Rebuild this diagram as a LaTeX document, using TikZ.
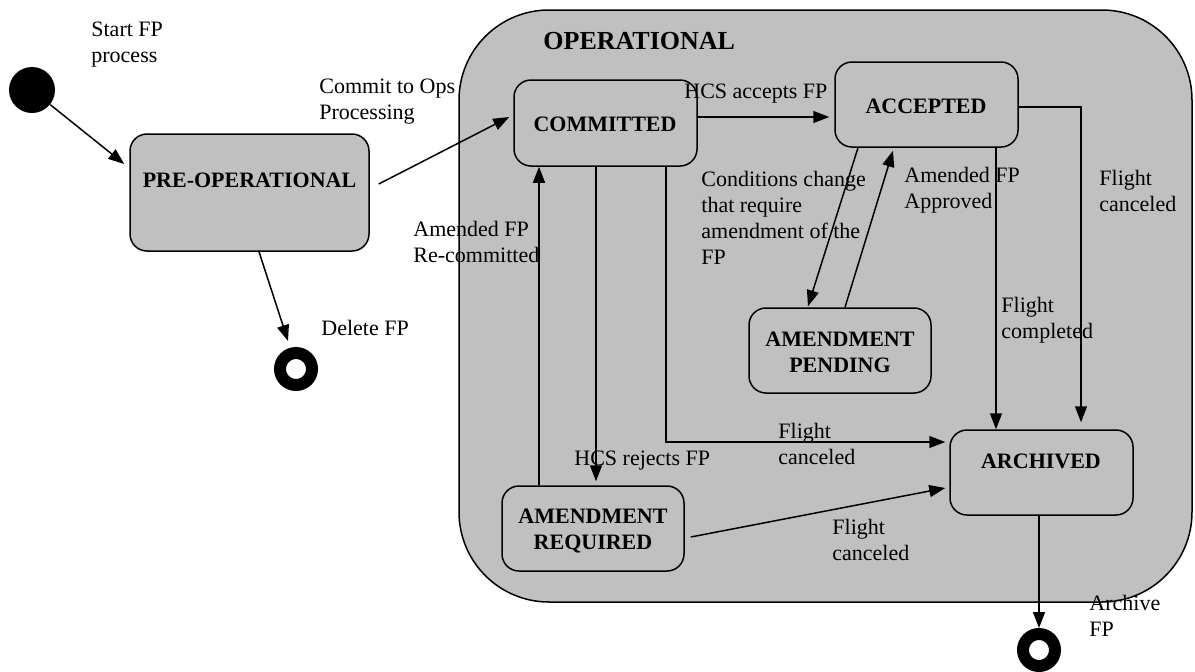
\documentclass[tikz,border=0pt]{standalone}
\usepackage{fontspec}
\setmainfont{Liberation Serif}
\usetikzlibrary{arrows.meta,fit,calc}
\definecolor{boxgray}{HTML}{C0C0C0}
\begin{document}
\begin{tikzpicture}[x=0.5pt,y=-0.5pt,
 box/.style={draw, fill=boxgray, rounded corners=8.5pt, inner sep=0pt, line width=0.75pt},
 arr/.style={line width=0.75pt, -{Triangle[length=8pt,width=6pt]}},
 lbl/.style={anchor=north west, inner sep=0pt, align=left, font=\fontsize{11}{13}\selectfont},
 stxt/.style={anchor=north, inner sep=0pt, align=center, font=\fontsize{11}{13}\selectfont\bfseries},
 initstate/.style={circle, fill=black, minimum size=23pt, inner sep=0pt},
 endstate/.style={circle, draw, line width=6pt, minimum size=16pt, inner sep=0pt},
]
\useasboundingbox (0,0) rectangle (1195,671);
% container
\node[box, rounded corners=45pt, fit={(459,10)(1192,602)}] (op) {};
\node[anchor=base west, inner sep=0pt, font=\fontsize{13}{15}\selectfont\bfseries] (optitle) at (543,49) {OPERATIONAL};
% states
\node[box, fit={(130,134)(369,251)}] (pre) {};
\node[box, fit={(514,80)(697,166)}] (com) {};
\node[box, fit={(835,62)(1018,147)}] (acc) {};
\node[box, fit={(749,308)(931,393)}] (ap) {};
\node[box, fit={(950,430)(1133,515)}] (arc) {};
\node[box, fit={(502,486)(684,571)}] (ar) {};
\node[stxt] (pret) at (249.5,172.5) {PRE-OPERATIONAL};
\node[stxt] (comt) at (605,116.5) {COMMITTED};
\node[stxt] (acct) at (926,98.5) {ACCEPTED};
\node[stxt] (apt) at (840,331.5) {AMENDMENT\\PENDING};
\node[stxt] (arct) at (1041,453.5) {ARCHIVED};
\node[stxt] (art) at (593,508.5) {AMENDMENT\\REQUIRED};
% pseudo states
\node[initstate] (init) at (32,90) {};
\node[endstate] (fin1) at (296,369) {};
\node[endstate] (fin2) at (1039,650) {};
% connectors
\draw[arr] (init) -- ($(pre.west)+(-5,-28.5)$);
\draw[arr] ($(pre.east)+(9,-8.5)$) -- ($(com.west)+(-4,-6)$);
\coordinate (h1) at ($(com.east)+(0,-6)$);
\draw[arr] (h1) -- ($(h1 -| acc.west)+(-5,0)$);
\coordinate (r1) at ($(com.south)+(-9.5,0)$);
\draw[arr] (r1) -- ($(r1 |- ar.north)+(0,-4)$);
\coordinate (u1) at ($(ar.north)+(-54,0)$);
\draw[arr] (u1) -- (u1 |- com.south);
\coordinate (c1) at ($(com.south)+(60.5,0)$);
\draw[arr] (c1) |- ($(arc.west)+(-4,-30.5)$);
\draw[arr] ($(acc.south)+(-68.5,0)$) -- ($(ap.north)+(-32,-1)$);
\draw[arr] ($(ap.north)+(5,0)$) -- ($(acc.south)+(-33.5,3)$);
\coordinate (d1) at ($(acc.south)+(69.5,0)$);
\draw[arr] (d1) -- (d1 |- arc.north);
\coordinate (d2) at ($(arc.north)+(39.5,0)$);
\draw[arr] ($(acc.east)+(0,2.5)$) -| ($(d2)+(0,-7)$);
\draw[arr] ($(ar.east)+(6,8.5)$) -- ($(arc.west)+(-4,15.5)$);
\draw[arr] (arc.south -| fin2.north) -- (fin2.north);
\draw[arr] ($(pre.south)+(9.5,0)$) -- ($(fin1.north)+(-8,-6)$);
% labels
\node[lbl] (l1) at (91,22) {Start FP\\process};
\node[lbl] (l2) at (319,79) {Commit to Ops\\Processing};
\node[lbl] (l3) at (321,320) {Delete FP};
\node[lbl] (l4) at (413,221) {Amended FP\\Re-committed};
\node[lbl] (l5) at (684,84) {HCS accepts FP};
\node[lbl] (l6) at (701,171) {Conditions change\\that require\\amendment of the\\FP};
\node[lbl] (l7) at (904,167) {Amended FP\\Approved};
\node[lbl] (l8) at (1099,170) {Flight\\canceled};
\node[lbl] (l9) at (1001,297) {Flight\\completed};
\node[lbl] (l10) at (574,451) {HCS rejects FP};
\node[lbl] (l11) at (778,423) {Flight\\canceled};
\node[lbl] (l12) at (832,519) {Flight\\canceled};
\node[lbl] (l13) at (1089,595) {Archive\\FP};
\end{tikzpicture}
\end{document}
